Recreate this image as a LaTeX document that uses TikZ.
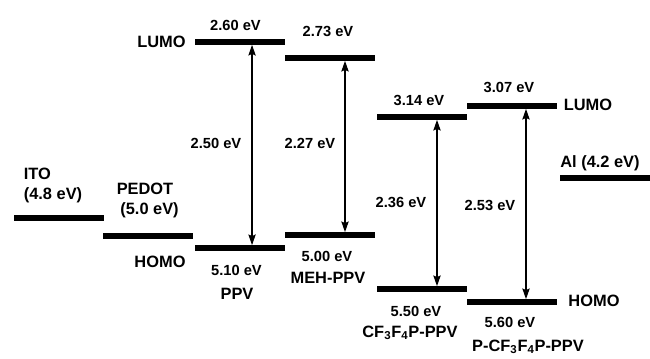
\documentclass[tikz,border=0pt]{standalone}
\usepackage{fontspec}
\setmainfont{Liberation Sans}
\usetikzlibrary{arrows.meta}

\tikzset{
  lev/.style={fill=black,inner sep=0pt,minimum width=67.5pt,minimum height=3.9pt},
  gap/.style={<->,line width=0.9pt,>={Stealth[length=8pt,width=5.5pt,inset=1.2pt]}},
  ev/.style={font=\fontsize{11}{13}\selectfont\bfseries,inner sep=0pt},
  lbl/.style={font=\fontsize{12.3}{15}\selectfont\bfseries,inner sep=0pt},
}

\begin{document}
\begin{tikzpicture}[x=0.75pt,y=-0.75pt]
   \useasboundingbox (0,0) rectangle (650,359);
   % energy levels
   \node[lev] (ito) at (58.5,218) {};
   \node[lev] (pedot) at (148,236) {};
   \node[lev] (ppvL) at (239.5,42) {};
   \node[lev] (ppvH) at (239.5,248) {};
   \node[lev] (mehL) at (330,58) {};
   \node[lev] (mehH) at (330,235) {};
   \node[lev] (cfL) at (422,117) {};
   \node[lev] (cfH) at (422,289) {};
   \node[lev] (pcfL) at (512,106) {};
   \node[lev] (pcfH) at (512,302) {};
   \node[lev] (al) at (604.5,178) {};
   % gaps
   \path[gap] ([xshift=9.4pt]ppvL.south) edge ([xshift=9.4pt]ppvH.north)
              ([xshift=11.25pt]mehL.south) edge ([xshift=11.25pt]mehH.north)
              ([xshift=11.25pt]cfL.south) edge ([xshift=11.25pt]cfH.north)
              ([xshift=10.5pt]pcfL.south) edge ([xshift=10.5pt]pcfH.north);
   % labels
   \node[lbl,align=left] (itoT) at (53,185) {ITO\\(4.8 eV)};
   \node[lbl,align=center] (pedotT) at (145,200) {PEDOT\\\ \ (5.0 eV)};
   \node[lbl] (lumoA) at (161.5,42) {LUMO};
   \node[lbl] (homoA) at (160,262) {HOMO};
   \node[lbl] (lumoB) at (588,105) {LUMO};
   \node[lbl] (homoB) at (594,301) {HOMO};
   \node[lbl] (alT) at (600,163) {Al (4.2 eV)};
   \node[ev] (ppvLT) at (235.5,25) {2.60 eV};
   \node[ev] (ppvGT) at (216,143) {2.50 eV};
   \node[ev] (ppvHT) at (236.5,270) {5.10 eV};
   \node[lbl] (ppvT) at (237,294) {PPV};
   \node[ev] (mehLT) at (328,31) {2.73 eV};
   \node[ev] (mehGT) at (310,143) {2.27 eV};
   \node[ev] (mehHT) at (327,256) {5.00 eV};
   \node[lbl] (mehT) at (328,278) {MEH-PPV};
   \node[ev] (cfLT) at (419,100) {3.14 eV};
   \node[ev] (cfGT) at (401,202) {2.36 eV};
   \node[ev] (cfHT) at (416,311) {5.50 eV};
   \node[lbl] (cfT) at (410,333) {CF\textsubscript{3}F\textsubscript{4}P-PPV};
   \node[ev] (pcfLT) at (509,87) {3.07 eV};
   \node[ev] (pcfGT) at (490,205) {2.53 eV};
   \node[ev] (pcfHT) at (510,322) {5.60 eV};
   \node[lbl] (pcfT) at (528,347) {P-CF\textsubscript{3}F\textsubscript{4}P-PPV};
\end{tikzpicture}
\end{document}
